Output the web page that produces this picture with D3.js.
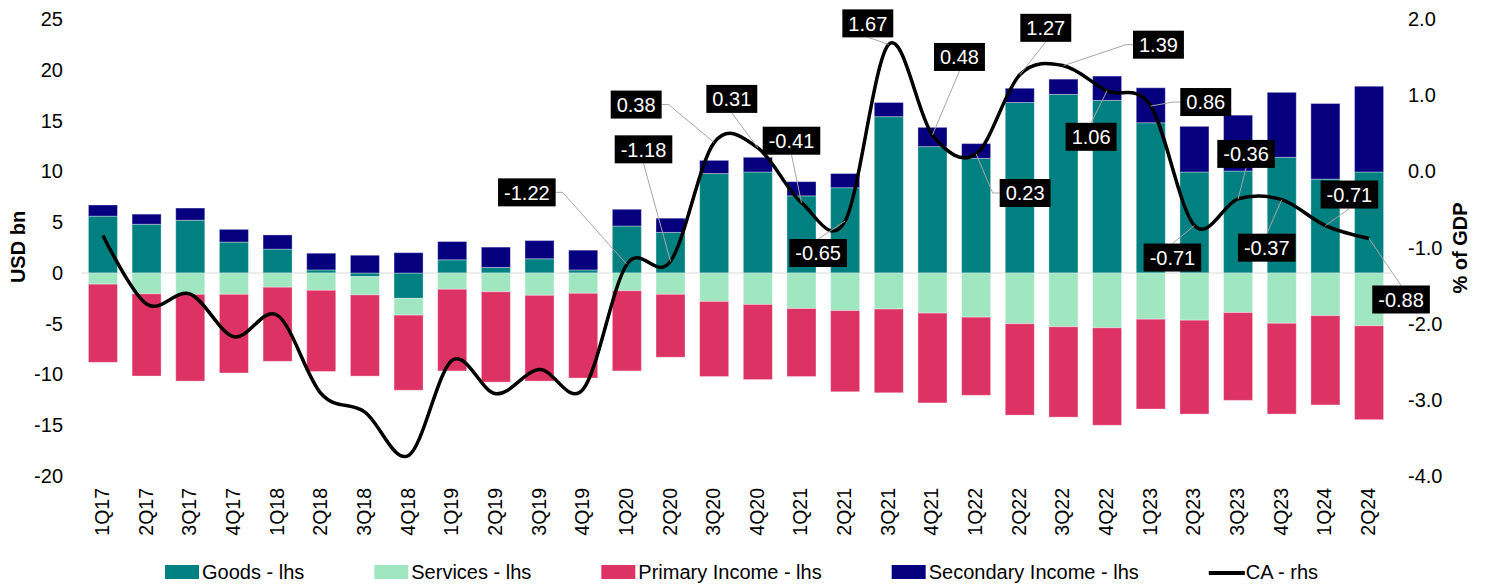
<!DOCTYPE html>
<html lang="en">
<head>
<meta charset="UTF-8" />
<title>Current account breakdown</title>
<script src="https://d3js.org/d3.v7.min.js"></script>
<style>
  body { margin: 0; background: #fff; }
  svg { display: block; font-family: "Liberation Sans", Arial, sans-serif; }
</style>
</head>
<body>
<script>
  // Data (USD bn, lhs) and CA (% of GDP, rhs)
  const quarters = ['1Q17','2Q17','3Q17','4Q17','1Q18','2Q18','3Q18','4Q18','1Q19','2Q19','3Q19','4Q19',
    '1Q20','2Q20','3Q20','4Q20','1Q21','2Q21','3Q21','4Q21','1Q22','2Q22','3Q22','4Q22',
    '1Q23','2Q23','3Q23','4Q23','1Q24','2Q24'];
  const goods = [5.6, 4.8, 5.2, 3.05, 2.35, 0.3, -0.36, -2.5, 1.3, 0.55, 1.4, 0.3,
    4.63, 4.0, 9.8, 9.95, 7.6, 8.4, 15.4, 12.45, 11.3, 16.8, 17.6, 17.0,
    14.8, 9.95, 10.05, 11.4, 9.25, 9.95];
  const services = [-1.1, -2.05, -2.1, -2.1, -1.4, -1.7, -1.8, -1.65, -1.6, -1.85, -2.2, -2.0,
    -1.75, -2.1, -2.8, -3.1, -3.5, -3.7, -3.55, -3.95, -4.35, -5.0, -5.3, -5.4,
    -4.55, -4.65, -3.9, -4.95, -4.2, -5.2];
  const primary = [-7.7, -8.1, -8.55, -7.75, -7.3, -8.0, -8.0, -7.4, -8.05, -8.9, -8.45, -8.35,
    -7.9, -6.2, -7.4, -7.4, -6.7, -8.0, -8.25, -8.85, -7.7, -9.0, -8.9, -9.6,
    -8.85, -9.25, -8.65, -8.95, -8.8, -9.25];
  const secondary = [1.1, 1.0, 1.2, 1.25, 1.4, 1.65, 1.75, 2.0, 1.8, 2.0, 1.8, 1.95,
    1.65, 1.4, 1.3, 1.45, 1.4, 1.4, 1.4, 1.9, 1.45, 1.4, 1.5, 2.4,
    3.45, 4.5, 5.5, 6.4, 7.45, 8.45];
  const ca = [-0.84, -1.74, -1.61, -2.17, -1.89, -2.92, -3.16, -3.73, -2.48, -2.92, -2.60, -2.86,
    -1.22, -1.18, 0.38, 0.31, -0.41, -0.65, 1.67, 0.48, 0.23, 1.27, 1.39, 1.06,
    0.86, -0.71, -0.36, -0.37, -0.71, -0.88];

  const leftTicks = [-20, -15, -10, -5, 0, 5, 10, 15, 20, 25];
  const rightTicks = [-4, -3, -2, -1, 0, 1, 2];

  const seriesNames = ['Goods - lhs', 'Services - lhs', 'Primary Income - lhs', 'Secondary Income - lhs'];
  const keys = ['goods', 'services', 'primary', 'secondary'];
  const colors = { goods: '#008080', services: '#a0e6c0', primary: '#dc3264', secondary: '#06007f' };

  // Data label boxes: index of quarter, offset of box centre from the point, leader side
  const labelIdx = [12, 13, 14, 15, 16, 17, 18, 19, 20, 21, 22, 23, 24, 25, 26, 27, 28, 29];
  const labelDx  = [-100, -27, -78, -26, -10, -27, -21, 27, 49, 26, 95, -16, 55, -22, 8, -15, 24, 32];
  const labelDy  = [-72, -112, -38, -49, -62, 32, -21, -78, 39, -47, -21, 46, -4, 32, -45, 48, -31, 61];
  const labelSide = ['r', 'b', 'r', 'b', 'b', 't', 'b', 'b', 'l', 'b', 'l', 't', 'l', 't', 'b', 't', 'b', 't'];

  // plain hyphen for negatives, like the original
  const loc = d3.formatLocale({ decimal: '.', thousands: ',', grouping: [3], currency: ['$', ''], minus: '-' });

  const W = 1491, H = 588;
  const svg = d3.select('body').append('svg').attr('width', W).attr('height', H);

  const x = d3.scaleBand().domain(quarters).range([81, 1391]).paddingInner(0.335).paddingOuter(0.17);
  const yL = d3.scaleLinear().domain([-20, 25]).range([476, 19.25]);
  const yR = d3.scaleLinear().domain([-4, 2]).range([476, 19.25]);

  const rows = quarters.map((q, i) => ({
    q, goods: goods[i], services: services[i], primary: primary[i], secondary: secondary[i]
  }));
  const stack = d3.stack().keys(keys).offset(d3.stackOffsetDiverging);
  const layers = stack(rows);

  // zero line
  svg.append('line')
    .attr('x1', 81).attr('x2', 1391)
    .attr('y1', yL(0)).attr('y2', yL(0))
    .attr('stroke', '#d9d9d9').attr('stroke-width', 1.2);

  // bars
  svg.append('g').selectAll('g')
    .data(layers)
    .enter().append('g')
    .attr('fill', d => colors[d.key])
    .selectAll('rect')
    .data(d => d)
    .enter().append('rect')
    .attr('x', d => x(d.data.q))
    .attr('width', x.bandwidth())
    .attr('y', d => yL(Math.max(d[0], d[1])))
    .attr('height', d => Math.abs(yL(d[0]) - yL(d[1])))
    .attr('stroke', '#fff')
    .attr('stroke-opacity', 0.35)
    .attr('stroke-width', 1);

  // left axis
  const axL = svg.append('g').attr('transform', 'translate(63,0)')
    .call(d3.axisLeft(yL).tickValues(leftTicks).tickSize(0).tickPadding(0).tickFormat(loc.format('d')));
  axL.select('.domain').remove();
  axL.selectAll('text').attr('font-size', 20).attr('fill', '#000').attr('font-family', 'Liberation Sans, Arial, sans-serif');

  // right axis
  const axR = svg.append('g').attr('transform', 'translate(1408,0)')
    .call(d3.axisRight(yR).tickValues(rightTicks).tickSize(0).tickPadding(0).tickFormat(loc.format('.1f')));
  axR.select('.domain').remove();
  axR.selectAll('text').attr('font-size', 20).attr('fill', '#000').attr('font-family', 'Liberation Sans, Arial, sans-serif');

  // x labels (rotated)
  svg.append('g').selectAll('text')
    .data(quarters)
    .enter().append('text')
    .attr('transform', d => `translate(${x(d) + x.bandwidth() / 2 + 6},488) rotate(-90)`)
    .attr('text-anchor', 'end')
    .attr('font-size', 19.5)
    .text(d => d);

  // axis titles
  svg.append('text')
    .attr('transform', 'translate(25,247) rotate(-90)')
    .attr('text-anchor', 'middle')
    .attr('font-weight', 'bold')
    .attr('font-size', 20)
    .text('USD bn');
  svg.append('text')
    .attr('transform', 'translate(1467,248) rotate(-90)')
    .attr('text-anchor', 'middle')
    .attr('font-weight', 'bold')
    .attr('font-size', 20)
    .text('% of GDP');

  // CA line
  const px = i => x(quarters[i]) + x.bandwidth() / 2;
  const line = d3.line()
    .x((d, i) => px(i))
    .y(d => yR(d))
    .curve(d3.curveCardinal.tension(0));
  svg.append('path')
    .datum(ca)
    .attr('fill', 'none')
    .attr('stroke', '#000')
    .attr('stroke-width', 3.5)
    .attr('d', line);

  // data labels
  const lab = svg.append('g');
  labelIdx.forEach((idx, k) => {
    const ptx = px(idx), pty = yR(ca[idx]);
    const cx = ptx + labelDx[k], cy = pty + labelDy[k];
    const g = lab.append('g');
    const leader = g.append('polyline')
      .attr('fill', 'none').attr('stroke', '#a6a6a6').attr('stroke-width', 1);
    const rect = g.append('rect').attr('fill', '#000');
    const t = g.append('text')
      .attr('x', cx).attr('y', cy)
      .attr('text-anchor', 'middle')
      .attr('dy', '0.36em')
      .attr('font-size', 20)
      .attr('fill', '#fff')
      .text(loc.format('.2f')(ca[idx]));
    const tw = t.node().getComputedTextLength();
    const bw = tw + 12, bh = 28;
    rect.attr('x', cx - bw / 2).attr('y', cy - bh / 2).attr('width', bw).attr('height', bh);
    let pts;
    const s = labelSide[k];
    if (s === 'b') pts = [[cx, cy + bh / 2], [ptx, pty]];
    else if (s === 't') pts = [[cx, cy - bh / 2], [ptx, pty]];
    else if (s === 'r') pts = [[cx + bw / 2, cy], [cx + bw / 2 + 7, cy], [ptx, pty]];
    else pts = [[cx - bw / 2, cy], [cx - bw / 2 - 7, cy], [ptx, pty]];
    leader.attr('points', pts.map(p => p.join(',')).join(' '));
  });

  // legend
  const legendItems = seriesNames.map((n, i) => ({ name: n, key: keys[i] }))
    .concat([{ name: 'CA - rhs', key: 'ca' }]);
  const legend = svg.append('g').attr('transform', 'translate(165,0)');
  const ly = 572;
  let lx = 0;
  legendItems.forEach(it => {
    const g = legend.append('g');
    if (it.key === 'ca') {
      g.append('line').attr('x1', lx).attr('x2', lx + 36).attr('y1', ly + 1).attr('y2', ly + 1)
        .attr('stroke', '#000').attr('stroke-width', 4);
    } else {
      g.append('rect').attr('x', lx).attr('y', ly - 7).attr('width', 34).attr('height', 14)
        .attr('fill', colors[it.key]);
    }
    const t = g.append('text').attr('x', lx + 37).attr('y', ly).attr('dy', '0.36em')
      .attr('font-size', 20).text(it.name);
    lx += 37 + t.node().getComputedTextLength() + 70;
  });
</script>
</body>
</html>
